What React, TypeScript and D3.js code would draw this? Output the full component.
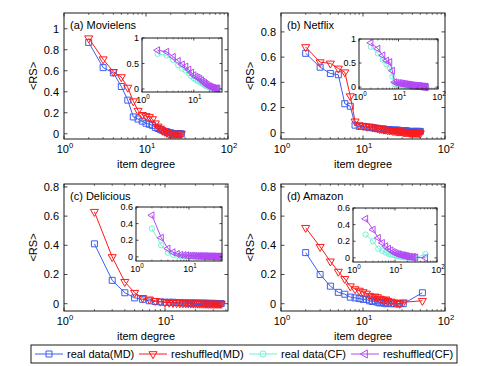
import React from "react";
import * as d3 from "d3";

const W = 491;
const H = 366;
const FONT = "'Liberation Sans', Arial, Helvetica, sans-serif";

const BLUE = "#3d5ef0";
const RED = "#ff1a1a";
const CYAN = "#74f0d6";
const PURPLE = "#b548f5";

// (a) Movielens
const degA = [2, 3, 4, 5, 6, 7, 8, 9, 10, 11, 12, 13, 14, 15, 16, 17, 18, 19, 20, 21, 22, 23, 24, 25, 26, 27];
const mdRealA = [0.87, 0.63, 0.58, 0.45, 0.32, 0.16, 0.14, 0.12, 0.1, 0.09, 0.08, 0.06, 0.05, 0.04, 0.03, 0.02, 0.02, 0.01, 0.01, 0, 0, 0, 0, 0, 0, 0];
const mdShufA = [0.91, 0.71, 0.59, 0.54, 0.44, 0.31, 0.22, 0.18, 0.17, 0.16, 0.14, 0.1, 0.07, 0.05, 0.03, 0.02, 0.01, 0, 0, 0, 0, 0, 0, 0, 0, 0];
const degAi = [2, 3, 4, 5, 6, 7, 8, 9, 10, 11, 12, 13, 14, 15, 16, 17, 18, 19, 20, 21, 22, 23, 24, 25, 26, 27, 28, 29];
const cfRealA = [0.69, 0.66, 0.57, 0.47, 0.4, 0.36, 0.31, 0.25, 0.21, 0.18, 0.16, 0.14, 0.12, 0.1, 0.08, 0.06, 0.05, 0.04, 0.03, 0.02, 0.02, 0.01, 0.01, 0, 0, 0, 0, 0];
const cfShufA = [0.76, 0.73, 0.63, 0.55, 0.48, 0.44, 0.38, 0.32, 0.27, 0.24, 0.22, 0.2, 0.17, 0.14, 0.12, 0.1, 0.08, 0.06, 0.05, 0.04, 0.03, 0.02, 0.02, 0.01, 0.01, 0.01, 0.01, 0.01];

// (b) Netflix
const degB = [2, 3, 4, 5, 6, 7, 8, 9, 10, 11, 12, 13, 14, 15, 16, 17, 18, 19, 20, 21, 22, 23, 24, 25, 26, 27, 28, 29, 30, 31, 32, 33, 34, 35, 36, 37, 38, 39, 40, 41, 42, 43, 44, 45, 46, 47, 48, 49, 50];
const mdRealB = [0.63, 0.52, 0.47, 0.46, 0.23, 0.21, 0.06, 0.05, 0.05, 0.045, 0.04, 0.04, 0.035, 0.035, 0.03, 0.03, 0.03, 0.025, 0.025, 0.025, 0.02, 0.02, 0.02, 0.02, 0.02, 0.02, 0.015, 0.015, 0.015, 0.015, 0.015, 0.015, 0.015, 0.01, 0.01, 0.01, 0.01, 0.01, 0.01, 0.01, 0.01, 0.01, 0.01, 0.01, 0.01, 0.01, 0.01, 0.01, 0.01];
const mdShufB = [0.68, 0.56, 0.55, 0.51, 0.48, 0.29, 0.09, 0.06, 0.055, 0.05, 0.05, 0.045, 0.04, 0.035, 0.03, 0.03, 0.025, 0.025, 0.02, 0.02, 0.02, 0.015, 0.015, 0.015, 0.01, 0.01, 0.01, 0.01, 0.01, 0.005, 0.005, 0.005, 0.005, 0.005, 0.005, 0, 0, 0, 0, 0, 0, 0, 0, 0, 0, 0, 0, 0, -0.005];
const cfRealB = [0.84, 0.7, 0.57, 0.47, 0.4, 0.22, 0.06, 0.05, 0.045, 0.04, 0.035, 0.03, 0.03, 0.025, 0.025, 0.02, 0.02, 0.02, 0.015, 0.015, 0.015, 0.01, 0.01, 0.01, 0.01, 0.01, 0.01, 0.005, 0.005, 0.005, 0.005, 0.005, 0.005, 0.005, 0.005, 0, 0, 0, 0, 0, 0, 0, 0, 0, 0, 0, 0, 0, 0];
const cfShufB = [0.92, 0.8, 0.66, 0.55, 0.52, 0.34, 0.1, 0.09, 0.085, 0.08, 0.075, 0.07, 0.065, 0.06, 0.055, 0.05, 0.05, 0.045, 0.04, 0.04, 0.035, 0.035, 0.03, 0.03, 0.03, 0.025, 0.025, 0.025, 0.02, 0.02, 0.02, 0.02, 0.015, 0.015, 0.015, 0.015, 0.01, 0.01, 0.01, 0.01, 0.01, 0.01, 0.005, 0.005, 0.005, 0.005, 0.005, 0, 0];

// (c) Delicious
const degC = [2, 3, 4, 5, 6, 7, 8, 9, 10, 11, 12, 13, 14, 15, 16, 17, 18, 19, 20, 21, 22, 23, 24, 25, 26, 27, 28, 29, 30, 31, 32, 33, 34, 35, 36];
const mdRealC = [0.41, 0.16, 0.075, 0.04, 0.03, 0.02, 0.015, 0.012, 0.01, 0.01, 0.01, 0.008, 0.008, 0.006, 0.006, 0.005, 0.005, 0.005, 0.004, 0.004, 0.004, 0.003, 0.003, 0.003, 0.003, 0.002, 0.002, 0.002, 0.002, 0.002, 0.001, 0.001, 0.001, 0.001, 0.001];
const mdShufC = [0.63, 0.32, 0.15, 0.075, 0.04, 0.03, 0.02, 0.015, 0.01, 0.008, 0.006, 0.005, 0.004, 0.003, 0.003, 0.002, 0.002, 0.002, 0.001, 0.001, 0.001, 0.001, 0.001, 0, 0, 0, 0, 0, 0, 0, 0, 0, 0, 0, 0];
const degCi = [2, 3, 4, 5, 6, 7, 8, 9, 10, 11, 12, 13, 14, 15, 16, 17, 18, 19, 20, 21, 22, 23, 24, 25, 26, 27, 28, 29, 30, 31, 32, 33, 34, 35, 36, 37, 38];
const cfRealC = [0.34, 0.14, 0.05, 0.025, 0.015, 0.01, 0.008, 0.006, 0.005, 0.005, 0.004, 0.004, 0.003, 0.003, 0.003, 0.002, 0.002, 0.002, 0.002, 0.001, 0.001, 0.001, 0.001, 0.001, 0.001, 0, 0, 0, 0, 0, 0, 0, 0, 0, 0, 0, 0];
const cfShufC = [0.5, 0.23, 0.1, 0.055, 0.035, 0.025, 0.02, 0.018, 0.015, 0.015, 0.012, 0.012, 0.01, 0.01, 0.01, 0.01, 0.008, 0.008, 0.008, 0.008, 0.006, 0.006, 0.006, 0.006, 0.005, 0.005, 0.005, 0.005, 0.004, 0.004, 0.004, 0.004, 0.003, 0.003, 0.003, 0.003, 0.003];

// (d) Amazon
const degD = [2, 3, 4, 5, 6, 7, 8, 9, 10, 11, 12, 13, 14, 15, 16, 17, 18, 19, 20, 22, 24, 26, 28, 31, 53];
const mdRealD = [0.35, 0.2, 0.12, 0.078, 0.065, 0.045, 0.04, 0.035, 0.03, 0.03, 0.02, 0.015, 0.02, 0.01, 0.005, 0.01, 0.005, 0, 0.005, 0, 0, 0, 0, 0, 0.075];
const mdShufD = [0.52, 0.39, 0.29, 0.22, 0.17, 0.12, 0.1, 0.09, 0.08, 0.07, 0.055, 0.045, 0.05, 0.045, 0.035, 0.03, 0.025, 0.03, 0.02, 0.015, 0.01, 0.005, 0, 0.01, 0.02];
const cfRealD = [0.28, 0.2, 0.11, 0.085, 0.065, 0.05, 0.04, 0.035, 0.03, 0.025, 0.02, 0.02, 0.015, 0.015, 0.01, 0.01, 0.01, 0.005, 0.005, 0.005, 0.005, 0, 0, 0, 0.045];
const cfShufD = [0.47, 0.34, 0.24, 0.18, 0.14, 0.11, 0.09, 0.07, 0.06, 0.05, 0.045, 0.04, 0.035, 0.03, 0.03, 0.025, 0.02, 0.02, 0.015, 0.015, 0.01, 0.01, 0.01, 0.005, 0];

const legendLabels = ["real data(MD)", "reshuffled(MD)", "real data(CF)", "reshuffled(CF)"];

type Marker = "square" | "down" | "circle" | "left";
type Series = { x: number[]; y: number[]; color: string; marker: Marker };
type Box = { x0: number; x1: number; y0: number; y1: number };

function MarkerShape({ m, cx, cy, color, small }: { m: Marker; cx: number; cy: number; color: string; small?: boolean }) {
  const k = small ? 0.75 : 1;
  let d = "";
  let rot = 0;
  if (m === "square") d = d3.symbol().type(d3.symbolSquare).size(36 * k)()!;
  if (m === "circle") d = d3.symbol().type(d3.symbolCircle).size(30 * k)()!;
  if (m === "down" || m === "left") {
    d = d3.symbol().type(d3.symbolTriangle).size(28 * k)()!;
    rot = m === "down" ? 180 : -90;
  }
  return (
    <path d={d} transform={`translate(${cx},${cy}) rotate(${rot})`} fill="none" stroke={color} strokeWidth={1} />
  );
}

function Pow10({ x, y, e, fs }: { x: number; y: number; e: number; fs: number }) {
  return (
    <text x={x} y={y} textAnchor="middle" fontSize={fs} fontFamily={FONT} fill="#000">
      10
      <tspan dy={-fs * 0.45} fontSize={fs * 0.7}>{e}</tspan>
    </text>
  );
}

function Axes({
  box, xDomain, yDomain, yTicks, series, fs, tick, small, title, labels,
}: {
  box: Box; xDomain: [number, number]; yDomain: [number, number]; yTicks: number[];
  series: Series[]; fs: number; tick: number; small?: boolean; title?: string; labels?: boolean;
}) {
  const x = d3.scaleLog().domain(xDomain).range([box.x0, box.x1]);
  const y = d3.scaleLinear().domain(yDomain).range([box.y1, box.y0]);
  const line = d3.line<[number, number]>().x((d) => x(d[0])).y((d) => y(d[1]));
  const xt = x.ticks();
  const isMajor = (t: number) => Math.abs(Math.log10(t) - Math.round(Math.log10(t))) < 1e-9;
  const majors = xt.filter(isMajor);
  const minors = xt.filter((t) => !isMajor(t));
  const ax = "#1a1a1a";
  return (
    <g>
      <rect x={box.x0} y={box.y0} width={box.x1 - box.x0} height={box.y1 - box.y0} fill="#fff" />
      {series.map((s, i) => {
        const pts: [number, number][] = s.x.slice(0, s.y.length).map((v, j) => [v, s.y[j]]);
        return (
          <g key={i}>
            <path d={line(pts)!} fill="none" stroke={s.color} strokeWidth={1} />
            {pts.map((p, j) => (
              <MarkerShape key={j} m={s.marker} cx={x(p[0])} cy={y(p[1])} color={s.color} small={small} />
            ))}
          </g>
        );
      })}
      {majors.map((t) => (
        <g key={"mx" + t}>
          <line x1={x(t)} x2={x(t)} y1={box.y1} y2={box.y1 - tick} stroke={ax} strokeWidth={0.8} />
          <line x1={x(t)} x2={x(t)} y1={box.y0} y2={box.y0 + tick} stroke={ax} strokeWidth={0.8} />
          <Pow10 x={x(t) + 1} y={box.y1 + (small ? 11 : 14)} e={Math.round(Math.log10(t))} fs={fs} />
        </g>
      ))}
      {minors.map((t) => (
        <g key={"nx" + t}>
          <line x1={x(t)} x2={x(t)} y1={box.y1} y2={box.y1 - tick * 0.55} stroke={ax} strokeWidth={0.6} />
          <line x1={x(t)} x2={x(t)} y1={box.y0} y2={box.y0 + tick * 0.55} stroke={ax} strokeWidth={0.6} />
        </g>
      ))}
      {yTicks.map((t) => (
        <g key={"y" + t}>
          <line x1={box.x0} x2={box.x0 + tick} y1={y(t)} y2={y(t)} stroke={ax} strokeWidth={0.8} />
          <line x1={box.x1} x2={box.x1 - tick} y1={y(t)} y2={y(t)} stroke={ax} strokeWidth={0.8} />
          <text x={box.x0 - (small ? 3 : 5)} y={y(t) + fs * 0.36} textAnchor="end" fontSize={fs} fontFamily={FONT}>
            {String(t)}
          </text>
        </g>
      ))}
      <rect x={box.x0} y={box.y0} width={box.x1 - box.x0} height={box.y1 - box.y0} fill="none" stroke={ax} strokeWidth={1} />
      {title && (
        <text x={box.x0 + 6} y={box.y0 + 16} fontSize={fs} fontFamily={FONT}>
          {title}
        </text>
      )}
      {labels && (
        <g>
          <text x={(box.x0 + box.x1) / 2} y={box.y1 + 29} textAnchor="middle" fontSize={fs} fontFamily={FONT}>
            item degree
          </text>
          <text
            transform={`translate(${box.x0 - 27},${(box.y0 + box.y1) / 2}) rotate(-90)`}
            textAnchor="middle"
            fontSize={fs}
            fontFamily={FONT}
          >
            {"<RS>"}
          </text>
        </g>
      )}
    </g>
  );
}

export default function App() {
  const colors = [BLUE, RED, CYAN, PURPLE];
  const markers: Marker[] = ["square", "down", "circle", "left"];
  const legendX = [35, 139, 249, 351];
  const legY = 354;
  return (
    <svg width={W} height={H} style={{ position: "absolute", left: 0, top: 0, background: "#fff" }}>
      <rect width={W} height={H} fill="#fff" />
      <Axes
        box={{ x0: 64, x1: 228, y0: 13, y1: 139 }}
        xDomain={[1, 100]}
        yDomain={[-0.05, 1.15]}
        yTicks={[0, 0.2, 0.4, 0.6, 0.8, 1]}
        series={[
          { x: degA, y: mdRealA, color: BLUE, marker: "square" },
          { x: degA, y: mdShufA, color: RED, marker: "down" },
        ]}
        fs={11}
        tick={3.5}
        title="(a) Movielens"
        labels
      />
      <Axes
        box={{ x0: 142, x1: 222, y0: 38, y1: 92 }}
        xDomain={[1, 35]}
        yDomain={[-0.06, 1]}
        yTicks={[0, 0.5, 1]}
        series={[
          { x: degAi, y: cfRealA, color: CYAN, marker: "circle" },
          { x: degAi, y: cfShufA, color: PURPLE, marker: "left" },
        ]}
        fs={9}
        tick={2.5}
        small
      />
      <Axes
        box={{ x0: 281, x1: 445, y0: 13, y1: 139 }}
        xDomain={[1, 100]}
        yDomain={[-0.05, 0.95]}
        yTicks={[0, 0.2, 0.4, 0.6, 0.8]}
        series={[
          { x: degB, y: mdRealB, color: BLUE, marker: "square" },
          { x: degB, y: mdShufB, color: RED, marker: "down" },
        ]}
        fs={11}
        tick={3.5}
        title="(b) Netflix"
        labels
      />
      <Axes
        box={{ x0: 359, x1: 438, y0: 39, y1: 89 }}
        xDomain={[1, 100]}
        yDomain={[-0.04, 1]}
        yTicks={[0, 0.5, 1]}
        series={[
          { x: degB, y: cfRealB, color: CYAN, marker: "circle" },
          { x: degB, y: cfShufB, color: PURPLE, marker: "left" },
        ]}
        fs={9}
        tick={2.5}
        small
      />
      <Axes
        box={{ x0: 64, x1: 228, y0: 184, y1: 311 }}
        xDomain={[1, 42]}
        yDomain={[-0.05, 0.82]}
        yTicks={[0, 0.2, 0.4, 0.6, 0.8]}
        series={[
          { x: degC, y: mdRealC, color: BLUE, marker: "square" },
          { x: degC, y: mdShufC, color: RED, marker: "down" },
        ]}
        fs={11}
        tick={3.5}
        title="(c) Delicious"
        labels
      />
      <Axes
        box={{ x0: 136, x1: 222, y0: 207, y1: 261 }}
        xDomain={[1, 42]}
        yDomain={[-0.05, 0.6]}
        yTicks={[0, 0.2, 0.4, 0.6]}
        series={[
          { x: degCi, y: cfRealC, color: CYAN, marker: "circle" },
          { x: degCi, y: cfShufC, color: PURPLE, marker: "left" },
        ]}
        fs={9}
        tick={2.5}
        small
      />
      <Axes
        box={{ x0: 281, x1: 445, y0: 184, y1: 311 }}
        xDomain={[1, 100]}
        yDomain={[-0.05, 0.82]}
        yTicks={[0, 0.2, 0.4, 0.6, 0.8]}
        series={[
          { x: degD, y: mdRealD, color: BLUE, marker: "square" },
          { x: degD, y: mdShufD, color: RED, marker: "down" },
        ]}
        fs={11}
        tick={3.5}
        title="(d) Amazon"
        labels
      />
      <Axes
        box={{ x0: 353, x1: 437, y0: 208, y1: 262 }}
        xDomain={[1, 100]}
        yDomain={[-0.05, 0.6]}
        yTicks={[0, 0.2, 0.4, 0.6]}
        series={[
          { x: degD, y: cfRealD, color: CYAN, marker: "circle" },
          { x: degD, y: cfShufD, color: PURPLE, marker: "left" },
        ]}
        fs={9}
        tick={2.5}
        small
      />
      <rect x={31} y={345} width={426} height={18} fill="#fff" stroke="#1a1a1a" strokeWidth={1} />
      {legendLabels.map((lab, i) => (
        <g key={lab}>
          <line x1={legendX[i]} x2={legendX[i] + 28} y1={legY} y2={legY} stroke={colors[i]} strokeWidth={1} />
          <MarkerShape m={markers[i]} cx={legendX[i] + 14} cy={legY} color={colors[i]} />
          <text x={legendX[i] + 32} y={legY + 4} fontSize={11} fontFamily={FONT}>
            {lab}
          </text>
        </g>
      ))}
    </svg>
  );
}
